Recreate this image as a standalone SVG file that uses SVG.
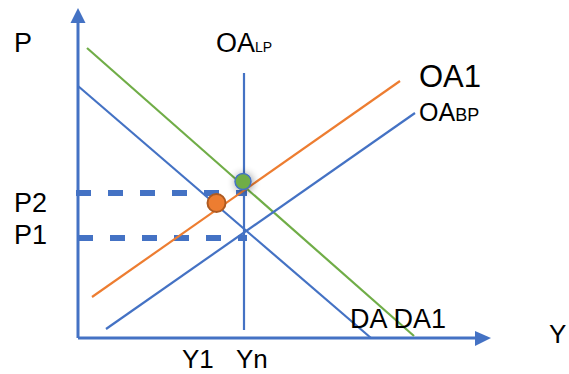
<svg xmlns="http://www.w3.org/2000/svg" width="569" height="374" viewBox="0 0 569 374">
<defs>
<style>
.t{font-family:"Liberation Sans",Arial,Helvetica,sans-serif;fill:#000}
.b{stroke:#4472C4;stroke-width:2.2;fill:none}
.ax{stroke:#4472C4;stroke-width:3;fill:none}
.o{stroke:#ED7D31;stroke-width:2.2;fill:none}
.g{stroke:#70AD47;stroke-width:2.2;fill:none}
.d{stroke:#4472C4;stroke-width:6;fill:none;stroke-dasharray:15 17}
</style>
<filter id="sh" x="-100%" y="-100%" width="300%" height="300%">
<feGaussianBlur in="SourceAlpha" stdDeviation="4"/>
<feOffset dx="1" dy="1"/>
<feComponentTransfer><feFuncA type="linear" slope="0.45"/></feComponentTransfer>
<feMerge><feMergeNode/><feMergeNode in="SourceGraphic"/></feMerge>
</filter>
</defs>
<rect width="569" height="374" fill="#fff"/>
<g id="axes">
<line class="ax" x1="78" y1="338" x2="78" y2="20"/>
<polygon points="78,8 70.5,23 85.5,23" fill="#4472C4"/>
<line class="ax" x1="78" y1="338" x2="478" y2="338"/>
<polygon points="491,338 475,331 475,346" fill="#4472C4"/>
</g>
<g id="connectors">
<line class="d" x1="76" y1="193" x2="247" y2="193"/>
<line class="d" x1="78" y1="238" x2="247" y2="238"/>
<line class="b" x1="244" y1="73" x2="244" y2="330"/>
<line class="b" x1="78" y1="86" x2="371" y2="338"/>
<line class="g" x1="87" y1="48" x2="414" y2="336"/>
<line class="b" x1="106" y1="329" x2="415" y2="113"/>
<line class="o" x1="92" y1="297" x2="400" y2="81"/>
</g>
<g id="point-green"><circle cx="243" cy="181.5" r="8" fill="#70AD47" stroke="#4472C4" stroke-width="1.5" filter="url(#sh)"/></g>
<g id="point-orange"><circle cx="216.5" cy="203" r="9" fill="#ED7D31" stroke="#AE5A21" stroke-width="2"/></g>
<g id="labels">
<text class="t" x="14" y="52" font-size="27">P</text>
<text class="t" x="14" y="212" font-size="27">P2</text>
<text class="t" x="14" y="244" font-size="27">P1</text>
<text class="t" x="216" y="52" font-size="27">OA<tspan font-size="14">LP</tspan></text>
<text class="t" x="419" y="87" font-size="31">OA1</text>
<text class="t" x="419" y="121" font-size="25">OA<tspan font-size="18">BP</tspan></text>
<text class="t" x="350" y="328" font-size="27">DA DA1</text>
<text class="t" x="182" y="368" font-size="26">Y1</text>
<text class="t" x="236" y="368" font-size="26">Yn</text>
<text class="t" x="549" y="343" font-size="26">Y</text>
</g>
</svg>
